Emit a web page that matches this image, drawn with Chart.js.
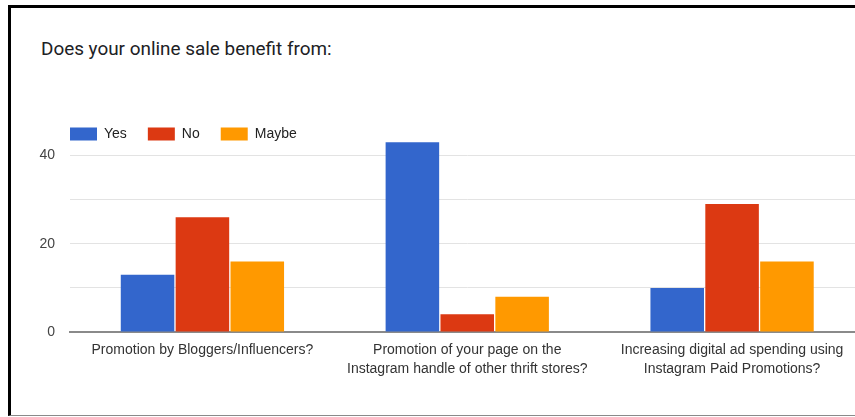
<!DOCTYPE html>
<html>
<head>
<meta charset="utf-8">
<script src="https://cdn.jsdelivr.net/npm/chart.js@4"></script>
<style>
  html, body { margin: 0; padding: 0; background: #fff; overflow: hidden; }
  body { width: 855px; height: 417px; position: relative; }
  #frame {
    position: absolute; left: 8px; top: 5px; width: 900px; height: 407px;
    border-left: 3px solid #000; border-top: 3px solid #000; border-bottom: 1px solid #8a8a8a;
  }
  #heading {
    position: absolute; left: 41px; top: 38px; margin: 0;
    font: 400 18.9px/22px Roboto, "Noto Sans", sans-serif; color: #202124; white-space: nowrap;
  }
  #chart { position: absolute; left: 0; top: 0; }
</style>
</head>
<body>
<div id="frame"></div>
<p id="heading">Does your online sale benefit from:</p>
<canvas id="chart" width="880" height="400"></canvas>
<script>
// survey answers per question
const questions = [
    ['Promotion by Bloggers/Influencers?'],
    ['Promotion of your page on the', 'Instagram handle of other thrift stores?'],
    ['Increasing digital ad spending using', 'Instagram Paid Promotions?']
];
const answers = ['Yes', 'No', 'Maybe'];
const yesCounts = [13, 43, 10];
const noCounts = [26, 4, 29];
const maybeCounts = [16, 8, 16];
const labelledTicks = [0, 20, 40];

const colors = ['#3366cc', '#dc3912', '#ff9900'];
const font = "'Liberation Sans', Arial, sans-serif";

// legend sits flush with the plot's left edge and just above the top gridline
const legendPlacement = {
    id: 'legendPlacement',
    beforeInit(chart) {
        const fit = chart.legend.fit;
        chart.legend.fit = function () {
            fit.call(this);
            this.height = 35;
        };
    },
    afterLayout(chart) {
        const legend = chart.legend;
        legend.left += 23;
        legend.right += 23;
        legend.bottom += 10;
        legend.height += 10;
    }
};

const ctx = document.getElementById('chart').getContext('2d');
new Chart(ctx, {
    type: 'bar',
    data: {
        labels: questions,
        datasets: [yesCounts, noCounts, maybeCounts].map((values, i) => ({
            label: answers[i],
            data: values,
            backgroundColor: colors[i],
            borderWidth: 0,
            barPercentage: 0.976,
            categoryPercentage: 0.6215
        }))
    },
    options: {
        responsive: false,
        animation: false,
        layout: { padding: { left: 26, top: 106, right: 15.5, bottom: 18 } },
        plugins: {
            legend: {
                position: 'top',
                align: 'start',
                labels: {
                    boxWidth: 27,
                    boxHeight: 13,
                    padding: 21,
                    color: '#222',
                    font: { family: font, size: 14 }
                }
            },
            tooltip: { enabled: false }
        },
        scales: {
            x: {
                grid: { display: false, drawTicks: false },
                border: { display: true, color: '#8a8a8a', width: 2 },
                ticks: {
                    color: '#333',
                    padding: 9,
                    maxRotation: 0,
                    autoSkip: false,
                    font: { family: font, size: 14, lineHeight: 1.36 }
                },
                afterFit(scale) { scale.height = 50; }
            },
            y: {
                min: 0,
                max: 43.3,
                grid: { color: '#e3e3e3', drawTicks: false },
                border: { display: false },
                ticks: {
                    stepSize: 10,
                    includeBounds: false,
                    padding: 15,
                    color: '#444',
                    font: { family: font, size: 14 },
                    callback: value => labelledTicks.includes(value) ? String(value) : ''
                },
                afterFit(scale) { scale.width = 44; }
            }
        }
    },
    plugins: [legendPlacement]
});
</script>
</body>
</html>
